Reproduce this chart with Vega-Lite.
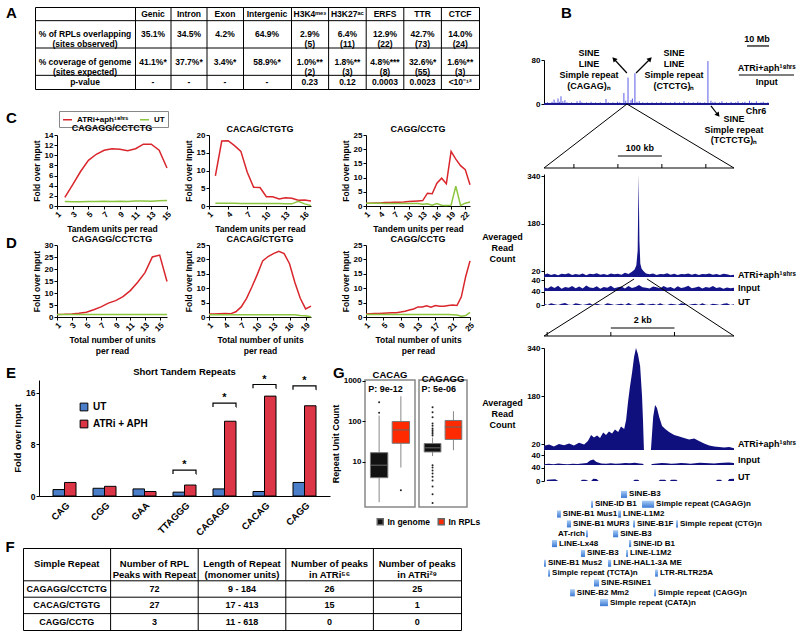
{
"$schema":"https://vega.github.io/schema/vega-lite/v6.json",
"background":"white",
"padding":{"left":5,"top":6,"right":0,"bottom":0},
"config":{
 "font":"Liberation Sans",
 "view":{"stroke":null},
 "axis":{"labelFont":"Liberation Sans","labelFontWeight":"bold","labelFontSize":8,"labelColor":"#000","titleFont":"Liberation Sans","titleFontWeight":"bold","titleFontSize":8.5,"titleColor":"#000","domainColor":"#000","tickColor":"#000","tickSize":3,"grid":false,"labelPadding":1,"titlePadding":3,"labelFlush":false,"labelOverlap":false},
 "title":{"font":"Liberation Sans","fontWeight":"bold","fontSize":9,"color":"#000","offset":3},
 "legend":{"labelFont":"Liberation Sans","labelFontWeight":"bold","labelColor":"#000"},
 "text":{"font":"Liberation Sans","fontWeight":"bold","color":"#000"}
},
"datasets":{
 "tbl":[
  {"c":"Genic","r":"h","t":"Genic"},{"c":"Intron","r":"h","t":"Intron"},{"c":"Exon","r":"h","t":"Exon"},{"c":"Intergenic","r":"h","t":"Intergenic"},{"c":"H3K4","r":"h","t":"H3K4ᵐᵉ³"},{"c":"H3K27","r":"h","t":"H3K27ᵃᶜ"},{"c":"ERFS","r":"h","t":"ERFS"},{"c":"TTR","r":"h","t":"TTR"},{"c":"CTCF","r":"h","t":"CTCF"},
  {"c":"Genic","r":"o1","t":"35.1%"},{"c":"Intron","r":"o1","t":"34.5%"},{"c":"Exon","r":"o1","t":"4.2%"},{"c":"Intergenic","r":"o1","t":"64.9%"},{"c":"H3K4","r":"o1","t":"2.9%\n(5)"},{"c":"H3K27","r":"o1","t":"6.4%\n(11)"},{"c":"ERFS","r":"o1","t":"12.9%\n(22)"},{"c":"TTR","r":"o1","t":"42.7%\n(73)"},{"c":"CTCF","r":"o1","t":"14.0%\n(24)"},
  {"c":"Genic","r":"e1","t":"41.1%*"},{"c":"Intron","r":"e1","t":"37.7%*"},{"c":"Exon","r":"e1","t":"3.4%*"},{"c":"Intergenic","r":"e1","t":"58.9%*"},{"c":"H3K4","r":"e1","t":"1.0%**\n(2)"},{"c":"H3K27","r":"e1","t":"1.8%**\n(3)"},{"c":"ERFS","r":"e1","t":"4.8%***\n(8)"},{"c":"TTR","r":"e1","t":"32.6%*\n(55)"},{"c":"CTCF","r":"e1","t":"1.6%**\n(3)"},
  {"c":"Genic","r":"p","t":"-"},{"c":"Intron","r":"p","t":"-"},{"c":"Exon","r":"p","t":"-"},{"c":"Intergenic","r":"p","t":"-"},{"c":"H3K4","r":"p","t":"0.23"},{"c":"H3K27","r":"p","t":"0.12"},{"c":"ERFS","r":"p","t":"0.0003"},{"c":"TTR","r":"p","t":"0.0023"},{"c":"CTCF","r":"p","t":"<10⁻¹²"}],
 "hl":[{"r":"o1"},{"r":"e1"},{"r":"p"}],
 "top":[{"p":0.5,"v":2},{"p":1.5,"v":3},{"p":2.5,"v":2},{"p":3.5,"v":4},{"p":4.4,"v":8},{"p":5.2,"v":3},{"p":6.1,"v":10},{"p":6.8,"v":4},{"p":7.4,"v":14},{"p":8.2,"v":5},{"p":9.1,"v":7},{"p":10,"v":3},{"p":11,"v":2},{"p":12,"v":3},{"p":13,"v":2},{"p":14.4,"v":5},{"p":15.7,"v":6},{"p":16.5,"v":3},{"p":17.5,"v":2},{"p":18.5,"v":3},{"p":19.5,"v":2},{"p":20.5,"v":4},{"p":21.5,"v":2},{"p":22.5,"v":3},{"p":23.5,"v":2},{"p":24.5,"v":3},{"p":25.5,"v":2},{"p":27,"v":9},{"p":28,"v":3},{"p":29,"v":2},{"p":30,"v":3},{"p":31,"v":2},{"p":32,"v":4},{"p":33,"v":3},{"p":34.8,"v":20},{"p":35.6,"v":6},{"p":36.6,"v":48},{"p":37.9,"v":7},{"p":38.5,"v":10},{"p":39.6,"v":56},{"p":40.5,"v":4},{"p":41.5,"v":5},{"p":43,"v":3},{"p":44,"v":2},{"p":45,"v":3},{"p":46,"v":2},{"p":47,"v":3},{"p":48,"v":2},{"p":49,"v":3},{"p":50,"v":2},{"p":51,"v":4},{"p":52,"v":2},{"p":53,"v":3},{"p":54,"v":2},{"p":55,"v":3},{"p":56,"v":2},{"p":57,"v":4},{"p":58,"v":2},{"p":59,"v":3},{"p":60,"v":2},{"p":61,"v":5},{"p":62,"v":2},{"p":63,"v":3},{"p":64,"v":2},{"p":65,"v":3},{"p":66,"v":2},{"p":67,"v":4},{"p":68,"v":3},{"p":69,"v":2},{"p":70,"v":3},{"p":71.4,"v":78},{"p":72.7,"v":6},{"p":73.5,"v":3},{"p":74.5,"v":4},{"p":75.5,"v":2},{"p":76.5,"v":3},{"p":77.5,"v":5},{"p":78.5,"v":2},{"p":79.5,"v":3},{"p":80.5,"v":2},{"p":81.5,"v":4},{"p":82.5,"v":2},{"p":83.5,"v":3},{"p":84.5,"v":5},{"p":85.5,"v":2},{"p":86.5,"v":3},{"p":87.5,"v":4},{"p":88.5,"v":2},{"p":89.5,"v":6},{"p":90.5,"v":3},{"p":91.5,"v":2},{"p":92.5,"v":5},{"p":93.5,"v":2},{"p":94.5,"v":3},{"p":95.5,"v":4},{"p":96.5,"v":2},{"p":97.5,"v":3}],
 "midA":[{"p":-68,"v":8},{"p":-60,"v":12},{"p":-52,"v":7},{"p":-44,"v":10},{"p":-36,"v":6},{"p":-28,"v":11},{"p":-20,"v":9},{"p":-12,"v":13},{"p":-4,"v":7},{"p":4,"v":10},{"p":12,"v":8},{"p":20,"v":12},{"p":28,"v":6},{"p":36,"v":11},{"p":44,"v":9},{"p":52,"v":13},{"p":60,"v":8},{"p":68,"v":10},{"p":76,"v":7},{"p":84,"v":12},{"p":92,"v":9},{"p":100,"v":11},{"p":108,"v":8},{"p":116,"v":14},{"p":124,"v":10},{"p":132,"v":18},{"p":138,"v":25},{"p":142,"v":40},{"p":145,"v":90},{"p":147,"v":345},{"p":149,"v":120},{"p":151,"v":45},{"p":154,"v":28},{"p":158,"v":20},{"p":164,"v":12},{"p":172,"v":9},{"p":180,"v":12},{"p":188,"v":7},{"p":196,"v":10},{"p":204,"v":9},{"p":212,"v":13},{"p":220,"v":8},{"p":228,"v":11},{"p":236,"v":7},{"p":244,"v":10},{"p":252,"v":9},{"p":260,"v":12},{"p":268,"v":8},{"p":276,"v":11},{"p":284,"v":7},{"p":292,"v":10},{"p":300,"v":9},{"p":308,"v":12},{"p":316,"v":8},{"p":324,"v":10},{"p":332,"v":7},{"p":340,"v":11},{"p":348,"v":9},{"p":356,"v":6},{"p":364,"v":8}],
 "midIU":[{"p":-68,"i":14,"u":4},{"p":-60,"i":9,"u":0},{"p":-52,"i":17,"u":5},{"p":-44,"i":11,"u":2},{"p":-36,"i":19,"u":0},{"p":-28,"i":8,"u":4},{"p":-20,"i":15,"u":6},{"p":-12,"i":12,"u":1},{"p":-4,"i":18,"u":0},{"p":4,"i":10,"u":5},{"p":12,"i":16,"u":3},{"p":20,"i":9,"u":0},{"p":28,"i":20,"u":2},{"p":36,"i":13,"u":5},{"p":44,"i":11,"u":0},{"p":52,"i":17,"u":4},{"p":60,"i":8,"u":1},{"p":68,"i":15,"u":0},{"p":76,"i":12,"u":5},{"p":84,"i":19,"u":3},{"p":92,"i":10,"u":0},{"p":100,"i":14,"u":2},{"p":108,"i":16,"u":4},{"p":116,"i":9,"u":0},{"p":124,"i":18,"u":6},{"p":132,"i":11,"u":1},{"p":140,"i":15,"u":0},{"p":148,"i":22,"u":4},{"p":156,"i":14,"u":5},{"p":164,"i":12,"u":0},{"p":172,"i":9,"u":2},{"p":180,"i":16,"u":4},{"p":188,"i":14,"u":0},{"p":196,"i":10,"u":5},{"p":204,"i":18,"u":1},{"p":212,"i":12,"u":0},{"p":220,"i":15,"u":4},{"p":228,"i":8,"u":2},{"p":236,"i":17,"u":0},{"p":244,"i":11,"u":5},{"p":252,"i":14,"u":3},{"p":260,"i":19,"u":0},{"p":268,"i":10,"u":2},{"p":276,"i":13,"u":4},{"p":284,"i":16,"u":0},{"p":292,"i":9,"u":5},{"p":300,"i":15,"u":1},{"p":308,"i":12,"u":0},{"p":316,"i":18,"u":4},{"p":324,"i":11,"u":2},{"p":332,"i":14,"u":0},{"p":340,"i":8,"u":4},{"p":348,"i":13,"u":5},{"p":356,"i":10,"u":0},{"p":364,"i":12,"u":2}],
 "botA":[{"p":-0.1,"v":14},{"p":0.06,"v":18},{"p":0.21,"v":12},{"p":0.37,"v":20},{"p":0.53,"v":16},{"p":0.69,"v":22},{"p":0.84,"v":15},{"p":1.0,"v":24},{"p":1.16,"v":18},{"p":1.28,"v":30},{"p":1.38,"v":50},{"p":1.47,"v":42},{"p":1.57,"v":48},{"p":1.66,"v":40},{"p":1.76,"v":58},{"p":1.85,"v":50},{"p":1.94,"v":62},{"p":2.04,"v":55},{"p":2.13,"v":68},{"p":2.23,"v":60},{"p":2.32,"v":78},{"p":2.42,"v":70},{"p":2.48,"v":100},{"p":2.54,"v":160},{"p":2.6,"v":210},{"p":2.67,"v":260},{"p":2.73,"v":310},{"p":2.79,"v":340},{"p":2.85,"v":320},{"p":2.92,"v":280},{"p":2.98,"v":180},{"p":3.01,"v":100},{"p":3.04,"v":0},{"p":3.26,"v":0},{"p":3.33,"v":110},{"p":3.39,"v":150},{"p":3.45,"v":140},{"p":3.52,"v":110},{"p":3.61,"v":80},{"p":3.71,"v":70},{"p":3.83,"v":60},{"p":3.99,"v":50},{"p":4.15,"v":45},{"p":4.3,"v":40},{"p":4.46,"v":35},{"p":4.62,"v":38},{"p":4.77,"v":30},{"p":4.93,"v":22},{"p":5.09,"v":15},{"p":5.25,"v":12},{"p":5.4,"v":10},{"p":5.56,"v":8},{"p":5.72,"v":10},{"p":5.87,"v":6}],
 "botI":[{"p":-0.1,"v":3},{"p":0.05,"v":5},{"p":0.2,"v":3},{"p":0.35,"v":6},{"p":0.5,"v":4},{"p":0.65,"v":3},{"p":0.8,"v":5},{"p":0.95,"v":4},{"p":1.1,"v":6},{"p":1.25,"v":8},{"p":1.35,"v":18},{"p":1.45,"v":22},{"p":1.55,"v":12},{"p":1.7,"v":6},{"p":1.85,"v":5},{"p":2.0,"v":7},{"p":2.15,"v":5},{"p":2.3,"v":6},{"p":2.45,"v":8},{"p":2.6,"v":7},{"p":2.75,"v":9},{"p":2.9,"v":6},{"p":3.0,"v":5},{"p":3.04,"v":0},{"p":3.26,"v":0},{"p":3.3,"v":4},{"p":3.45,"v":6},{"p":3.6,"v":8},{"p":3.75,"v":7},{"p":3.9,"v":5},{"p":4.05,"v":6},{"p":4.2,"v":8},{"p":4.35,"v":7},{"p":4.5,"v":5},{"p":4.65,"v":7},{"p":4.8,"v":9},{"p":4.95,"v":8},{"p":5.1,"v":7},{"p":5.25,"v":6},{"p":5.4,"v":8},{"p":5.55,"v":9},{"p":5.7,"v":10},{"p":5.87,"v":8}],
 "botU":[{"p":-0.1,"v":0},{"p":-0.02,"v":0},{"p":0.0,"v":4},{"p":0.25,"v":5},{"p":0.35,"v":0},{"p":1.05,"v":0},{"p":1.1,"v":4},{"p":1.2,"v":4},{"p":1.3,"v":0},{"p":1.38,"v":0},{"p":1.45,"v":7},{"p":1.55,"v":6},{"p":1.62,"v":0},{"p":2.7,"v":0},{"p":2.75,"v":4},{"p":2.85,"v":4},{"p":2.9,"v":0},{"p":3.5,"v":0},{"p":3.55,"v":4},{"p":3.7,"v":4},{"p":3.75,"v":0},{"p":3.85,"v":0},{"p":3.9,"v":4},{"p":4.05,"v":4},{"p":4.1,"v":0},{"p":5.3,"v":0},{"p":5.35,"v":4},{"p":5.45,"v":4},{"p":5.5,"v":0},{"p":5.68,"v":0},{"p":5.72,"v":6},{"p":5.87,"v":7}],
 "annot":[{"row":1,"s":2.32,"e":2.51,"t":"SINE-B3"},{"row":2,"s":1.38,"e":1.44,"t":"SINE-ID B1"},{"row":2,"s":2.98,"e":3.36,"t":"Simple repeat (CAGAG)n"},{"row":3,"s":0.31,"e":0.43,"t":"SINE-B1 Mus1"},{"row":3,"s":2.23,"e":2.32,"t":"LINE-L1M2"},{"row":4,"s":0.62,"e":0.75,"t":"SINE-B1 MUR3"},{"row":4,"s":2.7,"e":2.76,"t":"SINE-B1F"},{"row":4,"s":4.05,"e":4.11,"t":"Simple repeat (CTG)n"},{"row":5,"s":1.22,"e":1.28,"t":"AT-rich"},{"row":5,"s":2.07,"e":2.23,"t":"SINE-B3"},{"row":6,"s":0.15,"e":0.31,"t":"LINE-Lx48"},{"row":6,"s":2.57,"e":2.64,"t":"SINE-ID B1"},{"row":7,"s":1.06,"e":1.19,"t":"SINE-B3"},{"row":7,"s":2.48,"e":2.54,"t":"LINE-L1M2"},{"row":8,"s":-0.1,"e":-0.04,"t":"SINE-B1 Mus2"},{"row":8,"s":1.91,"e":2.01,"t":"LINE-HAL1-3A ME"},{"row":9,"s":0.03,"e":0.09,"t":"Simple repeat (TCTA)n"},{"row":9,"s":3.39,"e":3.48,"t":"LTR-RLTR25A"},{"row":10,"s":1.47,"e":1.63,"t":"SINE-RSINE1"},{"row":11,"s":0.72,"e":0.87,"t":"SINE-B2 Mm2"},{"row":11,"s":3.36,"e":3.42,"t":"Simple repeat (CAGG)n"},{"row":12,"s":1.66,"e":1.91,"t":"Simple repeat (CATA)n"}]
},
"hconcat":[
{
 "vconcat":[
  {"hconcat":[
    {"width":12,"height":1,"data":{"values":[]},"mark":"point","title":{"text":"A","anchor":"start","fontSize":15,"baseline":"alphabetic","offset":0,"dx":-17,"dy":26}},
    {"width":100,"height":82,"view":{"stroke":"#000","strokeWidth":1},
     "data":{"values":[{"r":"h","t":""},{"r":"o1","t":"% of RPLs overlapping\n(sites observed)"},{"r":"e1","t":"% coverage of genome\n(sites expected)"},{"r":"p","t":"p-value"}]},
     "layer":[
      {"data":{"name":"hl"},"mark":{"type":"rule","color":"#000","strokeWidth":1},"encoding":{"y":{"field":"r","type":"nominal","bandPosition":0,"scale":{"domain":["h","o1","o2","e1","e2","p"],"paddingInner":0,"paddingOuter":0},"axis":null}}},
      {"transform":[{"filter":"datum.r == 'h' || datum.r == 'p'"}],"mark":{"type":"text","fontSize":8.5},"encoding":{"y":{"field":"r","type":"nominal","bandPosition":0.5},"text":{"field":"t"}}},
      {"transform":[{"filter":"datum.r == 'o1' || datum.r == 'e1'"}],"mark":{"type":"text","fontSize":8.5,"lineBreak":"\n","lineHeight":10},"encoding":{"y":{"field":"r","type":"nominal","bandPosition":1},"text":{"field":"t"}}}
     ]},
    {"width":108,"height":82,"view":{"stroke":"#000","strokeWidth":1},
     "data":{"name":"tbl"},
     "transform":[{"filter":"datum.c == 'Genic' || datum.c == 'Intron' || datum.c == 'Exon'"}],
     "layer":[
      {"data":{"name":"hl"},"mark":{"type":"rule","color":"#000","strokeWidth":1},"encoding":{"y":{"field":"r","type":"nominal","bandPosition":0,"scale":{"domain":["h","o1","o2","e1","e2","p"],"paddingInner":0,"paddingOuter":0},"axis":null}}},
      {"data":{"values":[{"c":"Intron"},{"c":"Exon"}]},"mark":{"type":"rule","color":"#000","strokeWidth":1},"encoding":{"x":{"field":"c","type":"nominal","bandPosition":0,"scale":{"domain":["Genic","Intron","Exon"],"paddingInner":0,"paddingOuter":0},"axis":null}}},
      {"transform":[{"filter":"datum.r == 'h' || datum.r == 'p'"}],"mark":{"type":"text","fontSize":8.5},"encoding":{"x":{"field":"c","type":"nominal"},"y":{"field":"r","type":"nominal","bandPosition":0.5},"text":{"field":"t"}}},
      {"transform":[{"filter":"datum.r == 'o1' || datum.r == 'e1'"}],"mark":{"type":"text","fontSize":8.5,"lineBreak":"\n","lineHeight":10},"encoding":{"x":{"field":"c","type":"nominal"},"y":{"field":"r","type":"nominal","bandPosition":1},"text":{"field":"t"}}}
     ]},
    {"width":48,"height":82,"view":{"stroke":"#000","strokeWidth":1},
     "data":{"name":"tbl"},
     "transform":[{"filter":"datum.c == 'Intergenic'"}],
     "layer":[
      {"data":{"name":"hl"},"mark":{"type":"rule","color":"#000","strokeWidth":1},"encoding":{"y":{"field":"r","type":"nominal","bandPosition":0,"scale":{"domain":["h","o1","o2","e1","e2","p"],"paddingInner":0,"paddingOuter":0},"axis":null}}},
      {"transform":[{"filter":"datum.r == 'h' || datum.r == 'p'"}],"mark":{"type":"text","fontSize":8.5},"encoding":{"y":{"field":"r","type":"nominal","bandPosition":0.5},"text":{"field":"t"}}},
      {"transform":[{"filter":"datum.r == 'o1' || datum.r == 'e1'"}],"mark":{"type":"text","fontSize":8.5,"lineBreak":"\n","lineHeight":10},"encoding":{"y":{"field":"r","type":"nominal","bandPosition":1},"text":{"field":"t"}}}
     ]},
    {"width":188,"height":82,"view":{"stroke":"#000","strokeWidth":1},
     "data":{"name":"tbl"},
     "transform":[{"filter":"datum.c == 'H3K4' || datum.c == 'H3K27' || datum.c == 'ERFS' || datum.c == 'TTR' || datum.c == 'CTCF'"}],
     "layer":[
      {"data":{"name":"hl"},"mark":{"type":"rule","color":"#000","strokeWidth":1},"encoding":{"y":{"field":"r","type":"nominal","bandPosition":0,"scale":{"domain":["h","o1","o2","e1","e2","p"],"paddingInner":0,"paddingOuter":0},"axis":null}}},
      {"data":{"values":[{"c":"H3K27"},{"c":"ERFS"},{"c":"TTR"},{"c":"CTCF"}]},"mark":{"type":"rule","color":"#000","strokeWidth":1},"encoding":{"x":{"field":"c","type":"nominal","bandPosition":0,"scale":{"domain":["H3K4","H3K27","ERFS","TTR","CTCF"],"paddingInner":0,"paddingOuter":0},"axis":null}}},
      {"transform":[{"filter":"datum.r == 'h' || datum.r == 'p'"}],"mark":{"type":"text","fontSize":8.5},"encoding":{"x":{"field":"c","type":"nominal"},"y":{"field":"r","type":"nominal","bandPosition":0.5},"text":{"field":"t"}}},
      {"transform":[{"filter":"datum.r == 'o1' || datum.r == 'e1'"}],"mark":{"type":"text","fontSize":8.5,"lineBreak":"\n","lineHeight":10},"encoding":{"x":{"field":"c","type":"nominal"},"y":{"field":"r","type":"nominal","bandPosition":1},"text":{"field":"t"}}}
     ]}
  ],"spacing":0,"bounds":"flush"},
  {"width":1,"height":20,"data":{"values":[]},"mark":"point"},
  {"hconcat":[
    {"width":34,"height":1,"data":{"values":[]},"mark":"point","title":{"text":"C","anchor":"start","fontSize":15,"baseline":"alphabetic","offset":0,"dx":-17,"dy":3}},
    {"width":110,"height":71,"title":{"text":"CAGAGG/CCTCTG","offset":2,"dy":24.5},
     "data":{"values":[{"x":2,"ATRi":1.7,"UT":0.9},{"x":3,"ATRi":4.2,"UT":0.85},{"x":4,"ATRi":6.8,"UT":0.85},{"x":5,"ATRi":9.0,"UT":0.9},{"x":6,"ATRi":10.2,"UT":0.9},{"x":7,"ATRi":11.0,"UT":0.95},{"x":8,"ATRi":11.3,"UT":0.9},{"x":9,"ATRi":11.2,"UT":0.95},{"x":10,"ATRi":10.9,"UT":0.9},{"x":11,"ATRi":11.3,"UT":1.0},{"x":12,"ATRi":12.2,"UT":1.0},{"x":13,"ATRi":12.2,"UT":0.95},{"x":14,"ATRi":11.0,"UT":1.05},{"x":15,"ATRi":7.5,"UT":1.1}]},
     "transform":[{"fold":["ATRi","UT"],"as":["s","v"]}],
     "mark":{"type":"line","strokeWidth":1.5},
     "encoding":{
       "x":{"field":"x","type":"quantitative","scale":{"domain":[1,15],"nice":false,"zero":false},"axis":{"values":[1,3,5,7,9,11,13,15],"labelAngle":-45,"title":"Tandem units per read"}},
       "y":{"field":"v","type":"quantitative","scale":{"domain":[0,14],"nice":false},"axis":{"values":[0,2,4,6,8,10,12,14],"title":"Fold over Input"}},
       "color":{"field":"s","type":"nominal","scale":{"domain":["ATRi","UT"],"range":["#d9262c","#8cc63e"]},"legend":{"orient":"none","legendX":2,"legendY":-24,"direction":"horizontal","title":null,"symbolType":"stroke","symbolStrokeWidth":1.5,"symbolSize":80,"strokeColor":"#888","padding":3,"labelFontSize":8,"columnPadding":8,"labelExpr":"datum.label == 'ATRi' ? 'ATRi+aph¹⁸ʰʳˢ' : 'UT'"}}}},
    {"width":42,"height":1,"data":{"values":[]},"mark":"point"},
    {"width":102,"height":71,"title":{"text":"CACAG/CTGTG","offset":-3},
     "data":{"values":[{"x":2,"ATRi":8.5,"UT":0.8},{"x":3,"ATRi":18.3,"UT":0.8},{"x":4,"ATRi":18.4,"UT":0.75},{"x":5,"ATRi":17.0,"UT":0.75},{"x":6,"ATRi":15.4,"UT":0.7},{"x":7,"ATRi":9.5,"UT":0.7},{"x":8,"ATRi":5.3,"UT":0.7},{"x":9,"ATRi":5.2,"UT":0.7},{"x":10,"ATRi":2.6,"UT":0.7},{"x":11,"ATRi":2.6,"UT":0.7},{"x":12,"ATRi":2.0,"UT":0.7},{"x":13,"ATRi":2.3,"UT":0.6},{"x":14,"ATRi":2.2,"UT":0.6},{"x":15,"ATRi":1.6,"UT":1.3},{"x":16,"ATRi":1.7,"UT":0.6},{"x":17,"ATRi":1.4,"UT":0.1}]},
     "transform":[{"fold":["ATRi","UT"],"as":["s","v"]}],
     "mark":{"type":"line","strokeWidth":1.5},
     "encoding":{
       "x":{"field":"x","type":"quantitative","scale":{"domain":[1,17],"nice":false,"zero":false},"axis":{"values":[1,4,7,10,13,16],"labelAngle":-45,"title":"Tandem units per read"}},
       "y":{"field":"v","type":"quantitative","scale":{"domain":[0,20],"nice":false},"axis":{"values":[0,5,10,15,20],"title":"Fold over Input"}},
       "color":{"field":"s","type":"nominal","scale":{"domain":["ATRi","UT"],"range":["#d9262c","#8cc63e"]},"legend":null}}},
    {"width":55,"height":1,"data":{"values":[]},"mark":"point"},
    {"width":104,"height":71,"title":{"text":"CAGG/CCTG","offset":-3},
     "data":{"values":[{"x":1,"ATRi":1.0,"UT":1.0},{"x":2,"ATRi":1.0,"UT":1.0},{"x":3,"ATRi":1.1,"UT":0.95},{"x":4,"ATRi":1.1,"UT":0.95},{"x":5,"ATRi":1.2,"UT":0.9},{"x":6,"ATRi":1.2,"UT":0.9},{"x":7,"ATRi":1.3,"UT":0.9},{"x":8,"ATRi":1.3,"UT":0.9},{"x":9,"ATRi":1.4,"UT":0.9},{"x":10,"ATRi":1.6,"UT":0.9},{"x":11,"ATRi":1.7,"UT":0.85},{"x":12,"ATRi":1.8,"UT":0.85},{"x":13,"ATRi":1.9,"UT":0.6},{"x":14,"ATRi":4.5,"UT":0.8},{"x":15,"ATRi":4.3,"UT":0.3},{"x":16,"ATRi":8.0,"UT":0.9},{"x":17,"ATRi":9.8,"UT":0.3},{"x":18,"ATRi":7.8,"UT":0.2},{"x":19,"ATRi":19.2,"UT":0.3},{"x":20,"ATRi":16.5,"UT":7.0},{"x":21,"ATRi":14.2,"UT":0.2},{"x":22,"ATRi":12.8,"UT":1.0},{"x":23,"ATRi":7.5,"UT":1.4}]},
     "transform":[{"fold":["ATRi","UT"],"as":["s","v"]}],
     "mark":{"type":"line","strokeWidth":1.5},
     "encoding":{
       "x":{"field":"x","type":"quantitative","scale":{"domain":[1,23],"nice":false,"zero":false},"axis":{"values":[1,4,7,10,13,16,19,22],"labelAngle":-45,"title":"Tandem units per read"}},
       "y":{"field":"v","type":"quantitative","scale":{"domain":[0,25],"nice":false},"axis":{"values":[0,5,10,15,20,25],"title":"Fold over Input"}},
       "color":{"field":"s","type":"nominal","scale":{"domain":["ATRi","UT"],"range":["#d9262c","#8cc63e"]},"legend":null}}}
  ],"spacing":0,"bounds":"flush","resolve":{"scale":{"color":"independent"},"legend":{"color":"independent"}}},
  {"width":1,"height":1,"data":{"values":[]},"mark":"point"},
  {"hconcat":[
    {"width":34,"height":1,"data":{"values":[]},"mark":"point","title":{"text":"D","anchor":"start","fontSize":15,"baseline":"alphabetic","offset":0,"dx":-17,"dy":18}},
    {"width":110,"height":72,"title":{"text":"CAGAGG/CCTCTG","offset":-3},
     "data":{"values":[{"x":1,"ATRi":1.0,"UT":1.0},{"x":2,"ATRi":1.1,"UT":1.0},{"x":3,"ATRi":1.3,"UT":1.0},{"x":4,"ATRi":1.6,"UT":1.0},{"x":5,"ATRi":2.0,"UT":1.0},{"x":6,"ATRi":3.0,"UT":1.0},{"x":7,"ATRi":4.2,"UT":1.05},{"x":8,"ATRi":5.8,"UT":1.0},{"x":9,"ATRi":6.8,"UT":1.05},{"x":10,"ATRi":8.5,"UT":1.0},{"x":11,"ATRi":11.0,"UT":1.0},{"x":12,"ATRi":14.5,"UT":1.0},{"x":13,"ATRi":18.5,"UT":1.0},{"x":14,"ATRi":25.0,"UT":1.0},{"x":15,"ATRi":25.8,"UT":1.0},{"x":16,"ATRi":14.8,"UT":1.0}]},
     "transform":[{"fold":["ATRi","UT"],"as":["s","v"]}],
     "mark":{"type":"line","strokeWidth":1.5},
     "encoding":{
       "x":{"field":"x","type":"quantitative","scale":{"domain":[1,16],"nice":false,"zero":false},"axis":{"values":[1,3,5,7,9,11,13,15],"labelAngle":-45,"title":["Total number of units","per read"]}},
       "y":{"field":"v","type":"quantitative","scale":{"domain":[0,30],"nice":false},"axis":{"values":[0,5,10,15,20,25,30],"title":"Fold over Input"}},
       "color":{"field":"s","type":"nominal","scale":{"domain":["ATRi","UT"],"range":["#d9262c","#8cc63e"]},"legend":null}}},
    {"width":42,"height":1,"data":{"values":[]},"mark":"point"},
    {"width":102,"height":72,"title":{"text":"CACAG/CTGTG","offset":-3},
     "data":{"values":[{"x":1,"ATRi":1.0,"UT":0.8},{"x":2,"ATRi":1.0,"UT":0.8},{"x":3,"ATRi":1.1,"UT":0.8},{"x":4,"ATRi":1.2,"UT":0.8},{"x":5,"ATRi":1.1,"UT":0.8},{"x":6,"ATRi":1.8,"UT":0.8},{"x":7,"ATRi":3.5,"UT":0.8},{"x":8,"ATRi":6.5,"UT":0.8},{"x":9,"ATRi":10.5,"UT":0.8},{"x":10,"ATRi":14.8,"UT":0.8},{"x":11,"ATRi":19.5,"UT":0.8},{"x":12,"ATRi":21.0,"UT":0.8},{"x":13,"ATRi":22.0,"UT":0.8},{"x":14,"ATRi":22.8,"UT":0.8},{"x":15,"ATRi":22.0,"UT":0.8},{"x":16,"ATRi":18.5,"UT":0.8},{"x":17,"ATRi":12.0,"UT":0.8},{"x":18,"ATRi":6.5,"UT":0.5},{"x":19,"ATRi":2.8,"UT":0.4},{"x":20,"ATRi":3.8,"UT":0.1}]},
     "transform":[{"fold":["ATRi","UT"],"as":["s","v"]}],
     "mark":{"type":"line","strokeWidth":1.5},
     "encoding":{
       "x":{"field":"x","type":"quantitative","scale":{"domain":[1,20],"nice":false,"zero":false},"axis":{"values":[1,4,7,10,13,16,19],"labelAngle":-45,"title":["Total number of units","per read"]}},
       "y":{"field":"v","type":"quantitative","scale":{"domain":[0,25],"nice":false},"axis":{"values":[0,5,10,15,20,25],"title":"Fold over Input"}},
       "color":{"field":"s","type":"nominal","scale":{"domain":["ATRi","UT"],"range":["#d9262c","#8cc63e"]},"legend":null}}},
    {"width":55,"height":1,"data":{"values":[]},"mark":"point"},
    {"width":104,"height":72,"title":{"text":"CAGG/CCTG","offset":-3},
     "data":{"values":[{"x":1,"ATRi":1.0,"UT":0.9},{"x":2,"ATRi":1.1,"UT":0.9},{"x":3,"ATRi":1.2,"UT":0.9},{"x":4,"ATRi":1.2,"UT":0.9},{"x":5,"ATRi":1.3,"UT":0.9},{"x":6,"ATRi":1.4,"UT":0.9},{"x":7,"ATRi":1.5,"UT":0.9},{"x":8,"ATRi":1.5,"UT":0.9},{"x":9,"ATRi":1.7,"UT":0.9},{"x":10,"ATRi":2.0,"UT":0.9},{"x":11,"ATRi":2.4,"UT":0.9},{"x":12,"ATRi":2.8,"UT":0.9},{"x":13,"ATRi":3.5,"UT":0.9},{"x":14,"ATRi":3.5,"UT":0.9},{"x":15,"ATRi":3.9,"UT":0.9},{"x":16,"ATRi":3.4,"UT":0.9},{"x":17,"ATRi":4.0,"UT":0.9},{"x":18,"ATRi":3.7,"UT":0.9},{"x":19,"ATRi":3.7,"UT":0.9},{"x":20,"ATRi":4.0,"UT":0.9},{"x":21,"ATRi":4.2,"UT":0.8},{"x":22,"ATRi":4.0,"UT":0.7},{"x":23,"ATRi":7.0,"UT":0.3},{"x":24,"ATRi":14.0,"UT":0.5},{"x":25,"ATRi":19.5,"UT":1.6}]},
     "transform":[{"fold":["ATRi","UT"],"as":["s","v"]}],
     "mark":{"type":"line","strokeWidth":1.5},
     "encoding":{
       "x":{"field":"x","type":"quantitative","scale":{"domain":[1,25],"nice":false,"zero":false},"axis":{"values":[1,5,9,13,17,21,25],"labelAngle":-45,"title":["Total number of units","per read"]}},
       "y":{"field":"v","type":"quantitative","scale":{"domain":[0,25],"nice":false},"axis":{"values":[0,5,10,15,20,25],"title":"Fold over Input"}},
       "color":{"field":"s","type":"nominal","scale":{"domain":["ATRi","UT"],"range":["#d9262c","#8cc63e"]},"legend":null}}}
  ],"spacing":0,"bounds":"flush","resolve":{"scale":{"color":"independent"},"legend":{"color":"independent"}}},
  {"width":1,"height":11,"data":{"values":[]},"mark":"point"},
  {"hconcat":[
    {"width":16,"height":1,"data":{"values":[]},"mark":"point","title":{"text":"E","anchor":"start","fontSize":15,"baseline":"alphabetic","offset":0,"dx":-17,"dy":13}},
    {"width":291,"height":116,"title":{"text":"Short Tandem Repeats","offset":-3,"fontSize":9.5},
     "layer":[
      {"data":{"values":[{"m":"CAG","UT":1.0,"ATRi + APH":2.1},{"m":"CGG","UT":1.2,"ATRi + APH":1.5},{"m":"GAA","UT":1.1,"ATRi + APH":0.7},{"m":"TTAGGG","UT":0.6,"ATRi + APH":1.7},{"m":"CAGAGG","UT":1.1,"ATRi + APH":11.6},{"m":"CACAG","UT":0.7,"ATRi + APH":15.5},{"m":"CAGG","UT":2.1,"ATRi + APH":14.0}]},
       "transform":[{"fold":["UT","ATRi + APH"],"as":["s","v"]}],
       "mark":{"type":"bar","stroke":"#000","strokeWidth":1},
       "encoding":{
        "x":{"field":"m","type":"nominal","scale":{"domain":["CAG","CGG","GAA","TTAGGG","CAGAGG","CACAG","CAGG"],"paddingInner":0.425,"paddingOuter":0.35},"axis":{"labelAngle":-45,"title":null,"ticks":false,"labelFontSize":9.5,"labelPadding":4}},
        "xOffset":{"field":"s","type":"nominal","scale":{"domain":["UT","ATRi + APH"],"paddingInner":0,"paddingOuter":0}},
        "y":{"field":"v","type":"quantitative","scale":{"domain":[0,18],"nice":false},"axis":{"values":[0,2,4,6,8,10,12,14,16,18],"title":"Fold over Input","labelFontSize":8.5,"titleFontSize":9.5}},
        "color":{"field":"s","type":"nominal","scale":{"domain":["UT","ATRi + APH"],"range":["#4a7ec9","#dc3545"]},"legend":{"orient":"none","legendX":40,"legendY":22,"title":null,"symbolType":"square","symbolStrokeColor":"#000","symbolStrokeWidth":1,"symbolSize":60,"labelFontSize":10,"rowPadding":5}}}},
      {"data":{"values":[{"m":"TTAGGG","lo":3.4,"hi":4.0},{"m":"CAGAGG","lo":13.8,"hi":14.4},{"m":"CACAG","lo":16.7,"hi":17.3},{"m":"CAGG","lo":16.5,"hi":17.1}]},
       "mark":{"type":"bar","fillOpacity":0,"stroke":"#000","strokeWidth":1.2,"strokeDash":[26.87,23,3.87,0]},
       "encoding":{"x":{"field":"m","type":"nominal"},"y":{"field":"hi","type":"quantitative"},"y2":{"field":"lo"}}},
      {"data":{"values":[{"m":"TTAGGG","hi":4.0},{"m":"CAGAGG","hi":14.4},{"m":"CACAG","hi":17.3},{"m":"CAGG","hi":17.1}]},
       "mark":{"type":"text","text":"*","fontSize":11,"baseline":"middle","dy":-5},
       "encoding":{"x":{"field":"m","type":"nominal"},"y":{"field":"hi","type":"quantitative"}}}
     ]},
    {"width":35,"height":1,"data":{"values":[]},"mark":"point","title":{"text":"G","anchor":"start","fontSize":15,"baseline":"alphabetic","offset":0,"dx":3,"dy":13}},
    {"width":50,"height":127,"view":{"stroke":"#888","strokeWidth":1.5},"title":{"text":"CACAG","offset":-3,"fontSize":9.5},
     "layer":[
      {"data":{"values":[{"g":"In genome","lo":1.02,"q1":4.1,"med":8.3,"q3":17,"hi":140},{"g":"In RPLs","lo":7.3,"q1":29,"med":62,"q3":100,"hi":420}]},
       "layer":[
        {"mark":{"type":"rule","color":"#888","strokeWidth":1},"encoding":{"x":{"field":"g","type":"nominal","scale":{"domain":["In genome","In RPLs"],"paddingInner":0.2,"paddingOuter":0.25},"axis":null},"y":{"field":"lo","type":"quantitative","scale":{"type":"log","domain":[0.774,1058],"nice":false},"axis":{"values":[10,100,1000],"format":"d","title":"Repeat Unit Count","domain":false,"titleFontSize":9}},"y2":{"field":"hi"}}},
        {"mark":{"type":"bar","stroke":"#777","strokeWidth":1},"encoding":{"x":{"field":"g","type":"nominal"},"y":{"field":"q1","type":"quantitative"},"y2":{"field":"q3"},"color":{"field":"g","type":"nominal","scale":{"domain":["In genome","In RPLs"],"range":["#111111","#ff2a00"]},"legend":{"orient":"none","legendX":11,"legendY":137,"direction":"horizontal","title":null,"symbolType":"square","symbolStrokeColor":"#666","symbolSize":36,"labelFontSize":8.5,"columnPadding":4,"labelOffset":3}}}},
        {"mark":{"type":"tick","color":"#666","thickness":1.5,"size":17},"encoding":{"x":{"field":"g","type":"nominal"},"y":{"field":"med","type":"quantitative"}}}
       ]},
      {"data":{"values":[{"g":"In genome","v":165},{"g":"In genome","v":300},{"g":"In RPLs","v":2.0}]},
       "mark":{"type":"point","filled":true,"size":4,"color":"#222","opacity":1},
       "encoding":{"x":{"field":"g","type":"nominal"},"y":{"field":"v","type":"quantitative"}}},
      {"data":{"values":[{"g":"In genome","t":"P: 9e-12"}]},
       "mark":{"type":"text","align":"left","fontSize":9,"dx":-11,"baseline":"middle"},
       "encoding":{"x":{"field":"g","type":"nominal"},"y":{"datum":650},"text":{"field":"t"}}}
     ]},
    {"width":4,"height":1,"data":{"values":[]},"mark":"point"},
    {"width":48,"height":127,"view":{"stroke":"#888","strokeWidth":1.5},"title":{"text":"CAGAGG","offset":-3,"fontSize":9.5},
     "layer":[
      {"data":{"values":[{"g":"In genome","lo":14,"q1":17.7,"med":22.5,"q3":28.5,"hi":40},{"g":"In RPLs","lo":19.5,"q1":36,"med":73,"q3":106,"hi":180}]},
       "layer":[
        {"mark":{"type":"rule","color":"#888","strokeWidth":1},"encoding":{"x":{"field":"g","type":"nominal","scale":{"domain":["In genome","In RPLs"],"paddingInner":0.2,"paddingOuter":0.25},"axis":null},"y":{"field":"lo","type":"quantitative","scale":{"type":"log","domain":[0.774,1058],"nice":false},"axis":null},"y2":{"field":"hi"}}},
        {"mark":{"type":"bar","stroke":"#777","strokeWidth":1},"encoding":{"x":{"field":"g","type":"nominal"},"y":{"field":"q1","type":"quantitative"},"y2":{"field":"q3"},"color":{"field":"g","type":"nominal","scale":{"domain":["In genome","In RPLs"],"range":["#111111","#ff2a00"]},"legend":null}}},
        {"mark":{"type":"tick","color":"#666","thickness":1.5,"size":17},"encoding":{"x":{"field":"g","type":"nominal"},"y":{"field":"med","type":"quantitative"}}}
       ]},
      {"data":{"values":[{"g":"In genome","v":45},{"g":"In genome","v":50},{"g":"In genome","v":55},{"g":"In genome","v":61},{"g":"In genome","v":67},{"g":"In genome","v":78},{"g":"In genome","v":89},{"g":"In genome","v":128},{"g":"In genome","v":170},{"g":"In genome","v":226},{"g":"In genome","v":8.3},{"g":"In genome","v":7.3},{"g":"In genome","v":6.2},{"g":"In genome","v":5.2},{"g":"In genome","v":4.3},{"g":"In genome","v":3.5},{"g":"In genome","v":2.5},{"g":"In genome","v":1.6},{"g":"In genome","v":0.97}]},
       "mark":{"type":"point","filled":true,"size":4,"color":"#222","opacity":1},
       "encoding":{"x":{"field":"g","type":"nominal"},"y":{"field":"v","type":"quantitative"}}},
      {"data":{"values":[{"g":"In genome","t":"P: 5e-06"}]},
       "mark":{"type":"text","align":"left","fontSize":9,"dx":-11,"baseline":"middle"},
       "encoding":{"x":{"field":"g","type":"nominal"},"y":{"datum":650},"text":{"field":"t"}}}
     ]}
  ],"spacing":0,"bounds":"flush","resolve":{"scale":{"color":"independent"},"legend":{"color":"independent"}}},
  {"width":1,"height":2,"data":{"values":[]},"mark":"point"},
  {"width":438,"height":82,"view":{"stroke":"#000","strokeWidth":1},
   "title":{"text":"F","anchor":"start","fontSize":15,"baseline":"alphabetic","offset":0,"dx":-17,"dy":19},
   "data":{"values":[
     {"c":"1","r":"h1","t":"Simple Repeat"},{"c":"2","r":"h1","t":"Number of RPL\nPeaks with Repeat"},{"c":"3","r":"h1","t":"Length of Repeat\n(monomer units)"},{"c":"4","r":"h1","t":"Number of peaks\nin ATRi⁵⁶"},{"c":"5","r":"h1","t":"Number of peaks\nin ATRi²⁹"},
     {"c":"1","r":"a","t":"CAGAGG/CCTCTG"},{"c":"2","r":"a","t":"72"},{"c":"3","r":"a","t":"9 - 184"},{"c":"4","r":"a","t":"26"},{"c":"5","r":"a","t":"25"},
     {"c":"1","r":"b","t":"CACAG/CTGTG"},{"c":"2","r":"b","t":"27"},{"c":"3","r":"b","t":"17 - 413"},{"c":"4","r":"b","t":"15"},{"c":"5","r":"b","t":"1"},
     {"c":"1","r":"c","t":"CAGG/CCTG"},{"c":"2","r":"c","t":"3"},{"c":"3","r":"c","t":"11 - 618"},{"c":"4","r":"c","t":"0"},{"c":"5","r":"c","t":"0"}]},
   "layer":[
    {"data":{"values":[{"r":"a"},{"r":"b"},{"r":"c"}]},"mark":{"type":"rule","color":"#000","strokeWidth":1},"encoding":{"y":{"field":"r","type":"nominal","bandPosition":0,"scale":{"domain":["h1","h2","a","b","c"],"paddingInner":0,"paddingOuter":0},"axis":null}}},
    {"data":{"values":[{"c":"2"},{"c":"3"},{"c":"4"},{"c":"5"}]},"mark":{"type":"rule","color":"#000","strokeWidth":1},"encoding":{"x":{"field":"c","type":"nominal","bandPosition":0,"scale":{"domain":["1","2","3","4","5"],"paddingInner":0,"paddingOuter":0},"axis":null}}},
    {"transform":[{"filter":"datum.r == 'h1'"}],"mark":{"type":"text","fontSize":9.5,"lineBreak":"\n","lineHeight":11},"encoding":{"x":{"field":"c","type":"nominal"},"y":{"field":"r","type":"nominal","bandPosition":1},"text":{"field":"t"}}},
    {"transform":[{"filter":"datum.r != 'h1'"}],"mark":{"type":"text","fontSize":9},"encoding":{"x":{"field":"c","type":"nominal"},"y":{"field":"r","type":"nominal","bandPosition":0.5},"text":{"field":"t"}}}
   ]}
 ],
 "spacing":0,"bounds":"full",
 "resolve":{"scale":{"color":"independent"},"legend":{"color":"independent"}}
},
{
 "vconcat":[
  {"width":1,"height":53,"data":{"values":[]},"mark":"point","title":{"text":"B","anchor":"start","fontSize":15,"baseline":"alphabetic","offset":0,"dx":17,"dy":26}},
  {"width":225,"height":44,
   "layer":[
    {"data":{"name":"top"},"mark":{"type":"rule","color":"#5c5ce6","strokeWidth":1},"encoding":{"x":{"field":"p","type":"quantitative","scale":{"domain":[0,98],"nice":false,"zero":false},"axis":null},"y":{"field":"v","type":"quantitative","scale":{"domain":[0,80],"nice":false},"axis":{"values":[0,20,40,60,80],"title":null}},"y2":{"datum":0}}},
    {"data":{"values":[{}]},"mark":{"type":"rule","color":"#1b1b8f","strokeWidth":2},"encoding":{"y":{"datum":0}}},
    {"data":{"values":[{"p":19.6,"v":83.6,"t":"SINE\nLINE\nSimple repeat\n(CAGAG)ₙ"},{"p":56.6,"v":83.6,"t":"SINE\nLINE\nSimple repeat\n(CTCTG)ₙ"}]},"mark":{"type":"text","baseline":"bottom","align":"center","lineBreak":"\n","lineHeight":11,"fontSize":9},"encoding":{"x":{"field":"p","type":"quantitative"},"y":{"field":"v","type":"quantitative"},"text":{"field":"t"}}},
    {"data":{"values":[{"p":82.8,"v":-20,"t":"SINE\nSimple repeat\n(TCTCTG)ₙ"}]},"mark":{"type":"text","baseline":"top","align":"center","lineBreak":"\n","lineHeight":10.5,"fontSize":9},"encoding":{"x":{"field":"p","type":"quantitative"},"y":{"field":"v","type":"quantitative"},"text":{"field":"t"}}},
    {"data":{"values":[{"p":36.1,"v":56.4,"p2":30.5,"v2":81.8},{"p":40.1,"v":56.4,"p2":46.2,"v2":81.8},{"p":72.7,"v":-3.6,"p2":75.8,"v2":-20},{"p":88.4,"v":105.5,"p2":98,"v2":105.5},{"p":84.9,"v":52.7,"p2":108.9,"v2":52.7}]},"mark":{"type":"rule","color":"#000","strokeWidth":1.2},"encoding":{"x":{"field":"p","type":"quantitative"},"y":{"field":"v","type":"quantitative"},"x2":{"field":"p2"},"y2":{"field":"v2"}}},
    {"data":{"values":[{"p":30.5,"v":81.8}]},"mark":{"type":"point","shape":"triangle-up","angle":317,"size":30,"filled":true,"color":"#000","opacity":1},"encoding":{"x":{"field":"p","type":"quantitative"},"y":{"field":"v","type":"quantitative"}}},
    {"data":{"values":[{"p":46.2,"v":81.8}]},"mark":{"type":"point","shape":"triangle-up","angle":45,"size":30,"filled":true,"color":"#000","opacity":1},"encoding":{"x":{"field":"p","type":"quantitative"},"y":{"field":"v","type":"quantitative"}}},
    {"data":{"values":[{"p":75.8,"v":-20}]},"mark":{"type":"point","shape":"triangle-up","angle":142,"size":30,"filled":true,"color":"#000","opacity":1},"encoding":{"x":{"field":"p","type":"quantitative"},"y":{"field":"v","type":"quantitative"}}},
    {"data":{"values":[{"p":92.8,"v":118,"t":"10 Mb"},{"p":92.3,"v":-12.7,"t":"Chr6"},{"p":97,"v":65.5,"t":"ATRi+aph¹⁸ʰʳˢ"},{"p":97,"v":40,"t":"Input"}]},"mark":{"type":"text","baseline":"middle","align":"center","fontSize":9},"encoding":{"x":{"field":"p","type":"quantitative"},"y":{"field":"v","type":"quantitative"},"text":{"field":"t"}}}
   ]},
  {"width":190,"height":70,
   "layer":[
    {"data":{"values":[{"x":120.6,"y":70,"x2":-68,"y2":6},{"x":120.6,"y":70,"x2":364,"y2":6},{"x":-68,"y":6,"x2":364,"y2":6},{"x":0,"y":6,"x2":0,"y2":10},{"x":100,"y":6,"x2":100,"y2":10},{"x":200,"y":6,"x2":200,"y2":10},{"x":300,"y":6,"x2":300,"y2":10},{"x":100,"y":18,"x2":200,"y2":18}]},
     "mark":{"type":"rule","color":"#000","strokeWidth":1},
     "encoding":{"x":{"field":"x","type":"quantitative","scale":{"domain":[-68,364],"nice":false,"zero":false},"axis":null},"y":{"field":"y","type":"quantitative","scale":{"domain":[0,70],"nice":false},"axis":null},"x2":{"field":"x2"},"y2":{"field":"y2"}}},
    {"data":{"values":[{"x":150,"y":21,"t":"100 kb"}]},"mark":{"type":"text","baseline":"bottom","fontSize":9},"encoding":{"x":{"field":"x","type":"quantitative"},"y":{"field":"y","type":"quantitative"},"text":{"field":"t"}}}
   ]},
  {"width":190,"height":103,
   "layer":[
    {"data":{"name":"midA"},"mark":{"type":"area","color":"#15158a"},"encoding":{"x":{"field":"p","type":"quantitative","scale":{"domain":[-68,364],"nice":false,"zero":false},"axis":null},"y":{"field":"v","type":"quantitative","scale":{"domain":[0,347],"nice":false},"axis":{"values":[20,60,100,140,180,220,260,300,340],"title":["Averaged","Read","Count"],"titleAngle":0,"titleAlign":"center","titleBaseline":"middle","titleX":-42,"titleY":62,"titleFontSize":9,"titleLineHeight":11}}}},
    {"data":{"values":[{}]},"mark":{"type":"text","align":"left","dx":4,"fontSize":9,"baseline":"middle"},"encoding":{"x":{"datum":364},"y":{"datum":8},"text":{"value":"ATRi+aph¹⁸ʰʳˢ"}}}
   ]},
  {"width":190,"height":14,
   "layer":[
    {"data":{"name":"midIU"},"mark":{"type":"area","color":"#15158a"},"encoding":{"x":{"field":"p","type":"quantitative","scale":{"domain":[-68,364],"nice":false,"zero":false},"axis":null},"y":{"field":"i","type":"quantitative","scale":{"domain":[0,51],"nice":false},"axis":{"values":[40],"title":null}}}},
    {"data":{"values":[{}]},"mark":{"type":"text","align":"left","dx":4,"fontSize":9,"baseline":"middle"},"encoding":{"x":{"datum":364},"y":{"datum":12},"text":{"value":"Input"}}}
   ]},
  {"width":190,"height":14,
   "layer":[
    {"data":{"name":"midIU"},"mark":{"type":"area","color":"#15158a"},"encoding":{"x":{"field":"p","type":"quantitative","scale":{"domain":[-68,364],"nice":false,"zero":false},"axis":null},"y":{"field":"u","type":"quantitative","scale":{"domain":[0,43],"nice":false},"axis":{"values":[0,40],"title":null}}}},
    {"data":{"values":[{}]},"mark":{"type":"text","align":"left","dx":4,"fontSize":9,"baseline":"middle"},"encoding":{"x":{"datum":364},"y":{"datum":10},"text":{"value":"UT"}}}
   ]},
  {"width":190,"height":43,
   "layer":[
    {"data":{"values":[{"x":2.73,"y":69,"x2":-0.1,"y2":12},{"x":3.14,"y":69,"x2":5.87,"y2":12},{"x":-0.1,"y":12,"x2":5.87,"y2":12},{"x":0,"y":12,"x2":0,"y2":16},{"x":2,"y":12,"x2":2,"y2":16},{"x":4,"y":12,"x2":4,"y2":16},{"x":2,"y":20,"x2":4,"y2":20}]},
     "mark":{"type":"rule","color":"#000","strokeWidth":1},
     "encoding":{"x":{"field":"x","type":"quantitative","scale":{"domain":[-0.1,5.87],"nice":false,"zero":false},"axis":null},"y":{"field":"y","type":"quantitative","scale":{"domain":[0,43],"nice":false},"axis":null},"x2":{"field":"x2"},"y2":{"field":"y2"}}},
    {"data":{"values":[{"x":3,"y":23,"t":"2 kb"}]},"mark":{"type":"text","baseline":"bottom","fontSize":9},"encoding":{"x":{"field":"x","type":"quantitative"},"y":{"field":"y","type":"quantitative"},"text":{"field":"t"}}}
   ]},
  {"width":190,"height":102,
   "layer":[
    {"data":{"name":"botA"},"mark":{"type":"area","color":"#0f0f7e"},"encoding":{"x":{"field":"p","type":"quantitative","scale":{"domain":[-0.1,5.87],"nice":false,"zero":false},"axis":null},"y":{"field":"v","type":"quantitative","scale":{"domain":[0,340],"nice":false},"axis":{"values":[20,60,100,140,180,220,260,300,340],"title":["Averaged","Read","Count"],"titleAngle":0,"titleAlign":"center","titleBaseline":"middle","titleX":-42,"titleY":54,"titleFontSize":9,"titleLineHeight":11}}}},
    {"data":{"values":[{}]},"mark":{"type":"text","align":"left","dx":4,"fontSize":9,"baseline":"middle"},"encoding":{"x":{"datum":5.87},"y":{"datum":20},"text":{"value":"ATRi+aph¹⁸ʰʳˢ"}}}
   ]},
  {"width":190,"height":15,
   "layer":[
    {"data":{"name":"botI"},"mark":{"type":"area","color":"#0f0f7e"},"encoding":{"x":{"field":"p","type":"quantitative","scale":{"domain":[-0.1,5.87],"nice":false,"zero":false},"axis":null},"y":{"field":"v","type":"quantitative","scale":{"domain":[0,60],"nice":false},"axis":{"values":[40],"title":null}}}},
    {"data":{"values":[{}]},"mark":{"type":"text","align":"left","dx":4,"fontSize":9,"baseline":"middle"},"encoding":{"x":{"datum":5.87},"y":{"datum":20},"text":{"value":"Input"}}}
   ]},
  {"width":190,"height":16,
   "layer":[
    {"data":{"name":"botU"},"mark":{"type":"area","color":"#0f0f7e"},"encoding":{"x":{"field":"p","type":"quantitative","scale":{"domain":[-0.1,5.87],"nice":false,"zero":false},"axis":null},"y":{"field":"v","type":"quantitative","scale":{"domain":[0,49],"nice":false},"axis":{"values":[0,40],"title":null}}}},
    {"data":{"values":[{}]},"mark":{"type":"text","align":"left","dx":4,"fontSize":9,"baseline":"middle"},"encoding":{"x":{"datum":5.87},"y":{"datum":12},"text":{"value":"UT"}}}
   ]},
  {"width":190,"height":135,
   "data":{"name":"annot"},
   "layer":[
    {"mark":{"type":"bar","color":{"gradient":"linear","x1":0,"y1":0,"x2":0,"y2":1,"stops":[{"offset":0,"color":"#a9cdf5"},{"offset":1,"color":"#3a78d4"}]}},
     "encoding":{"x":{"field":"s","type":"quantitative","scale":{"domain":[-0.1,5.87],"nice":false,"zero":false},"axis":null},"x2":{"field":"e"},"y":{"field":"row","type":"ordinal","scale":{"paddingInner":0.28,"paddingOuter":1.06},"axis":null}}},
    {"transform":[{"filter":"datum.t != 'AT-rich'"}],"mark":{"type":"text","align":"left","dx":2,"fontSize":8,"baseline":"middle"},"encoding":{"x":{"field":"e","type":"quantitative"},"y":{"field":"row","type":"ordinal"},"text":{"field":"t"}}},
    {"transform":[{"filter":"datum.t == 'AT-rich'"}],"mark":{"type":"text","align":"right","dx":-1,"fontSize":8,"baseline":"middle"},"encoding":{"x":{"field":"s","type":"quantitative"},"y":{"field":"row","type":"ordinal"},"text":{"field":"t"}}}
   ]}
 ],
 "spacing":0,"bounds":"flush"
}
],
"spacing":-1,
"bounds":"full"
}
